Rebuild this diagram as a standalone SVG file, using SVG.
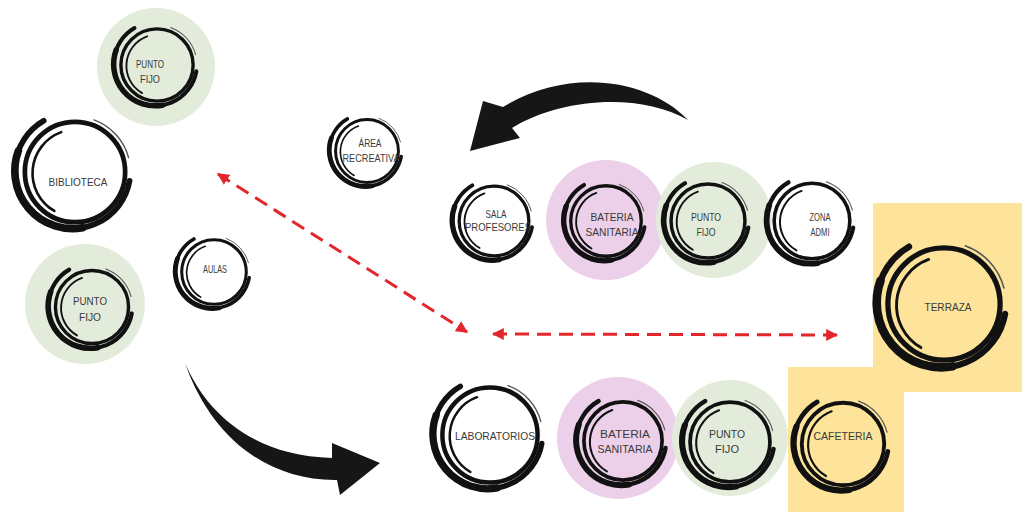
<svg xmlns="http://www.w3.org/2000/svg" xmlns:xlink="http://www.w3.org/1999/xlink" width="1022" height="512" viewBox="0 0 1022 512">
<style>
.lbl{font-family:"Liberation Sans",Arial,sans-serif;font-size:11.5px;fill:#3a3a3a;text-anchor:middle}
.green{fill:#e3ecda}
.pink{fill:#eccfe9}
.yellow{fill:#fde49a}
.dash{fill:none;stroke:#e3262b;stroke-width:3;stroke-dasharray:14 8}
.blk{fill:#161616}
</style>
<defs>
<g id="brush" fill="none" stroke="#111" stroke-linecap="round">
<path d="M-26.5,-43.44 A49,49 0 1 0 46.26,7.51" stroke-width="4.8"/>
<path d="M-48.05,-17.76 A49,49 0 0 0 6.5,47.25" stroke-width="6.5"/>
<circle cx="0" cy="0" r="42.5" stroke-width="4"/>
<path d="M-11.65,-33.77 A37,37 0 0 0 -17.5,33.04" stroke-width="2.2"/>
<path d="M16.07,-44.17 A47,47 0 0 1 45.4,-12.16" stroke-width="1.2" stroke="#555"/>
</g>
<marker id="rh" viewBox="0 0 10 10" refX="9" refY="5" markerWidth="4" markerHeight="4" orient="auto-start-reverse" markerUnits="strokeWidth">
<path d="M0,0 L10,5 L0,10 Z" fill="#e3262b"/>
</marker>
</defs>
<rect width="1022" height="512" fill="#fff"/>

<g id="bg-zones">
<rect x="873" y="203" width="149" height="189" class="yellow"/>
<rect x="788" y="367" width="116" height="145" class="yellow"/>
</g>

<g id="connectors">
<path d="M688,120 C650,80 570,66 503,107 L483,101 L470,151 L520,138 L512,128 C560,98 640,92 688,120 Z" class="blk"/>
<path d="M185,363 C205,410 250,456 332,458 L332,443 L380,463 L340,495 L337,480 C270,481 212,440 185,363 Z" class="blk"/>
<line x1="218" y1="174" x2="467" y2="332" class="dash" marker-start="url(#rh)" marker-end="url(#rh)"/>
<line x1="493" y1="334" x2="837" y2="335" class="dash" marker-start="url(#rh)" marker-end="url(#rh)"/>
</g>

<g id="punto-fijo-1">
<circle cx="156" cy="67" r="59" class="green"/>
<use xlink:href="#brush" transform="translate(157,65) scale(0.85)"/>
<text x="150" y="68" class="lbl" textLength="28" lengthAdjust="spacingAndGlyphs">PUNTO</text>
<text x="150" y="83" class="lbl" textLength="20" lengthAdjust="spacingAndGlyphs">FIJO</text>
</g>

<g id="biblioteca">
<use xlink:href="#brush" transform="translate(75,172) scale(1.18)"/>
<text x="78" y="186" class="lbl" textLength="59" lengthAdjust="spacingAndGlyphs">BIBLIOTECA</text>
</g>

<g id="punto-fijo-2">
<circle cx="85" cy="304" r="60" class="green"/>
<use xlink:href="#brush" transform="translate(92,307) scale(0.86)"/>
<text x="90" y="305" class="lbl" textLength="34" lengthAdjust="spacingAndGlyphs">PUNTO</text>
<text x="90" y="321" class="lbl" textLength="22" lengthAdjust="spacingAndGlyphs">FIJO</text>
</g>

<g id="aulas">
<use xlink:href="#brush" transform="translate(214,272) scale(0.76)"/>
<text x="215" y="273" class="lbl" textLength="24" lengthAdjust="spacingAndGlyphs">AULAS</text>
</g>

<g id="area-recreativa">
<use xlink:href="#brush" transform="translate(367,151) scale(0.74)"/>
<text x="370" y="147" class="lbl" textLength="23" lengthAdjust="spacingAndGlyphs">ÁREA</text>
<text x="371" y="162" class="lbl" textLength="57" lengthAdjust="spacingAndGlyphs">RECREATIVA</text>
</g>

<g id="sala-profesores">
<use xlink:href="#brush" transform="translate(494,221) scale(0.82)"/>
<text x="496" y="218" class="lbl" textLength="21" lengthAdjust="spacingAndGlyphs">SALA</text>
<text x="498" y="231" class="lbl" textLength="66" lengthAdjust="spacingAndGlyphs">PROFESORES</text>
</g>

<g id="bateria-sanitaria-1">
<circle cx="606" cy="220" r="60" class="pink"/>
<use xlink:href="#brush" transform="translate(606,221) scale(0.83)"/>
<text x="612" y="221" class="lbl" textLength="43" lengthAdjust="spacingAndGlyphs">BATERIA</text>
<text x="612" y="236" class="lbl" textLength="53" lengthAdjust="spacingAndGlyphs">SANITARIA</text>
</g>

<g id="punto-fijo-3">
<circle cx="714" cy="220" r="58" class="green"/>
<use xlink:href="#brush" transform="translate(708,221) scale(0.87)"/>
<text x="706" y="221" class="lbl" textLength="30" lengthAdjust="spacingAndGlyphs">PUNTO</text>
<text x="706" y="236" class="lbl" textLength="19" lengthAdjust="spacingAndGlyphs">FIJO</text>
</g>

<g id="zona-admi">
<use xlink:href="#brush" transform="translate(812,221) scale(0.89)"/>
<text x="820" y="221" class="lbl" textLength="21" lengthAdjust="spacingAndGlyphs">ZONA</text>
<text x="820" y="236" class="lbl" textLength="19" lengthAdjust="spacingAndGlyphs">ADMI</text>
</g>

<g id="terraza">
<use xlink:href="#brush" transform="translate(944,304) scale(1.32)"/>
<text x="948" y="311" class="lbl" textLength="47" lengthAdjust="spacingAndGlyphs">TERRAZA</text>
</g>

<g id="laboratorios">
<use xlink:href="#brush" transform="translate(490,435) scale(1.12)"/>
<text x="495" y="440" class="lbl" textLength="80" lengthAdjust="spacingAndGlyphs">LABORATORIOS</text>
</g>

<g id="bateria-sanitaria-2">
<circle cx="618" cy="438" r="61" class="pink"/>
<use xlink:href="#brush" transform="translate(623,441) scale(0.92)"/>
<text x="625" y="438" class="lbl" textLength="50" lengthAdjust="spacingAndGlyphs">BATERIA</text>
<text x="625" y="453" class="lbl" textLength="55" lengthAdjust="spacingAndGlyphs">SANITARIA</text>
</g>

<g id="punto-fijo-4">
<circle cx="730" cy="438" r="58" class="green"/>
<use xlink:href="#brush" transform="translate(730,442) scale(0.94)"/>
<text x="727" y="438" class="lbl" textLength="36" lengthAdjust="spacingAndGlyphs">PUNTO</text>
<text x="727" y="453" class="lbl" textLength="24" lengthAdjust="spacingAndGlyphs">FIJO</text>
</g>

<g id="cafeteria">
<use xlink:href="#brush" transform="translate(843,444) scale(0.97)"/>
<text x="843" y="440" class="lbl" textLength="59" lengthAdjust="spacingAndGlyphs">CAFETERIA</text>
</g>
</svg>
